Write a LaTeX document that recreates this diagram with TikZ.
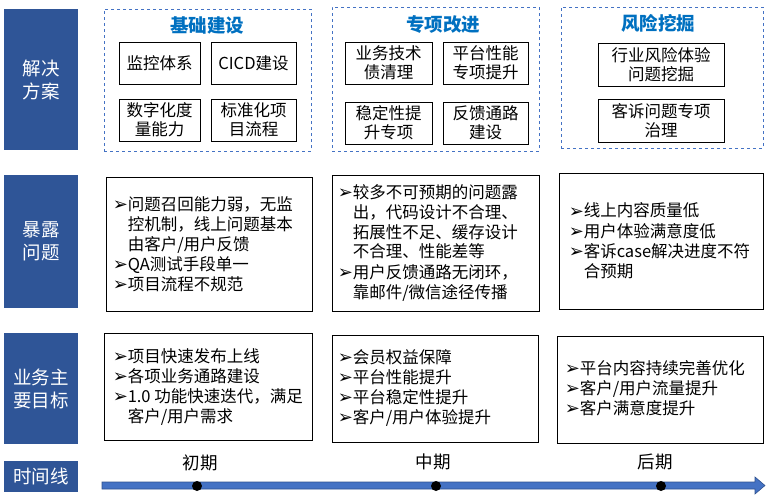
\documentclass[tikz,border=0pt]{standalone}
\usepackage{fontspec}
\setmainfont{Noto Sans CJK SC}
\newfontfamily\symfont{DejaVu Sans}
\definecolor{labblue}{HTML}{2F5597}
\definecolor{dashblue}{HTML}{4472C4}
\definecolor{ttlblue}{HTML}{0070C0}
\definecolor{arrfill}{HTML}{4472C4}
\definecolor{arrline}{HTML}{2F528F}
\newcommand\bul{\makebox[15pt][l]{\raisebox{-0.5pt}{\symfont\fontsize{18}{18}\selectfont ➢}}}
\begin{document}
\begin{tikzpicture}[x=1pt,y=-1pt,
 lab/.style={fill=labblue, text=white, font=\fontsize{18.5}{23}\selectfont, align=center, inner sep=0},
 grp/.style={draw=dashblue, dashed, line width=0.8pt, inner sep=0},
 item/.style={draw=black, line width=0.9pt, font=\fontsize{16.5}{19}\selectfont, align=center, inner sep=0},
 ttl/.style={text=ttlblue, font=\fontsize{18.5}{22}\selectfont\bfseries, inner sep=0},
 tbox/.style={draw=black, line width=0.9pt, inner sep=0},
 body/.style={anchor=west, inner sep=0, font=\fontsize{16.5}{20}\selectfont},
 dot/.style={circle, fill=black, minimum size=10pt, inner sep=0},
 per/.style={font=\fontsize{17.5}{20}\selectfont, inner sep=0},
]
\useasboundingbox (0,0) rectangle (771,501);

% left labels
\node[lab, minimum width=74pt, minimum height=141pt] (L1) at (41,79.5) {解决\\方案};
\node[lab, minimum width=74pt, minimum height=133pt] (L2) at (41,241.5) {暴露\\问题};
\node[lab, minimum width=74pt, minimum height=111pt] (L3) at (41,388.5) {业务主\\要目标};
\node[lab, minimum width=74pt, minimum height=31pt] (L4) at (41,476.5) {时间线};

% row 1 groups
\node[grp, minimum width=207pt, minimum height=142pt] (G1) at (207.5,80) {};
\node[grp, minimum width=207pt, minimum height=144pt] (G2) at (435.5,79) {};
\node[grp, minimum width=202pt, minimum height=141pt] (G3) at (662,77.5) {};
\node[ttl] (T1) at (207,25) {基础建设};
\node[ttl] (T2) at (443,24) {专项改进};
\node[ttl] (T3) at (658,23) {风险挖掘};

\node[item, minimum width=81pt, minimum height=42pt] (a1) at (159.5,63) {监控体系};
\node[item, minimum width=85pt, minimum height=42pt] (a2) at (253.5,63) {CICD建设};
\node[item, minimum width=81pt, minimum height=42pt] (a3) at (159.5,120) {数字化度\\量能力};
\node[item, minimum width=85pt, minimum height=42pt] (a4) at (253.5,120) {标准化项\\目流程};

\node[item, minimum width=87pt, minimum height=42pt] (b1) at (388.5,63) {业务技术\\债清理};
\node[item, minimum width=85pt, minimum height=42pt] (b2) at (485.5,63) {平台性能\\专项提升};
\node[item, minimum width=87pt, minimum height=42pt] (b3) at (388.5,123) {稳定性提\\升专项};
\node[item, minimum width=85pt, minimum height=42pt] (b4) at (485.5,123) {反馈通路\\建设};

\node[item, minimum width=126pt, minimum height=43pt] (c1) at (661,64.5) {行业风险体验\\问题挖掘};
\node[item, minimum width=126pt, minimum height=43pt] (c2) at (661,120.5) {客诉问题专项\\治理};

% row 2
\node[tbox, minimum width=206pt, minimum height=134pt] (P1) at (209,244) {};
\node[tbox, minimum width=207pt, minimum height=136pt] (P2) at (435.5,243) {};
\node[tbox, minimum width=204pt, minimum height=136pt] (P3) at (661,241) {};

\node[body] (p1t) at ([xshift=7pt,yshift=-2pt]P1.west) {\begin{tabular}{@{}l@{}l@{}}
\bul & 问题召回能力弱，无监\\
 & 控机制，线上问题基本\\
 & 由客户/用户反馈\\
\bul & QA测试手段单一\\
\bul & 项目流程不规范
\end{tabular}};
\node[body] (p2t) at ([xshift=6pt,yshift=-1pt]P2.west) {\begin{tabular}{@{}l@{}l@{}}
\bul & 较多不可预期的问题露\\
 & 出，代码设计不合理、\\
 & 拓展性不足、缓存设计\\
 & 不合理、性能差等\\
\bul & 用户反馈通路无闭环，\\
 & 靠邮件/微信途径传播
\end{tabular}};
\node[body] (p3t) at ([xshift=10pt,yshift=-2pt]P3.west) {\begin{tabular}{@{}l@{}l@{}}
\bul & 线上内容质量低\\
\bul & 用户体验满意度低\\
\bul & 客诉case解决进度不符\\
 & 合预期
\end{tabular}};

% row 3
\node[tbox, minimum width=208pt, minimum height=107pt] (Q1) at (208,386.5) {};
\node[tbox, minimum width=206pt, minimum height=107pt] (Q2) at (435,388.5) {};
\node[tbox, minimum width=206pt, minimum height=107pt] (Q3) at (660,389.5) {};

\node[body] (q1t) at ([xshift=9pt,yshift=-1.5pt]Q1.west) {\begin{tabular}{@{}l@{}l@{}}
\bul & 项目快速发布上线\\
\bul & 各项业务通路建设\\
\bul & 1.0 功能快速迭代，满足\\
 & 客户/用户需求
\end{tabular}};
\node[body] (q2t) at ([xshift=6pt,yshift=-0.5pt]Q2.west) {\begin{tabular}{@{}l@{}l@{}}
\bul & 会员权益保障\\
\bul & 平台性能提升\\
\bul & 平台稳定性提升\\
\bul & 客户/用户体验提升
\end{tabular}};
\node[body] (q3t) at ([xshift=8pt,yshift=-0.5pt]Q3.west) {\begin{tabular}{@{}l@{}l@{}}
\bul & 平台内容持续完善优化\\
\bul & 客户/用户流量提升\\
\bul & 客户满意度提升
\end{tabular}};

% timeline
\coordinate (tl0) at (102,485.5);
\coordinate (tl1) at (765,485.5);
\fill[arrfill, draw=arrline, line width=0.6pt]
 ([yshift=-3.5pt]tl0) -- ([xshift=-10pt,yshift=-3.5pt]tl1) -- ([xshift=-10pt,yshift=-8.5pt]tl1)
 -- (tl1) -- ([xshift=-10pt,yshift=8.5pt]tl1) -- ([xshift=-10pt,yshift=3.5pt]tl1)
 -- ([yshift=3.5pt]tl0) -- cycle;
\node[dot] (d1) at (197,486) {};
\node[dot] (d2) at (436,486) {};
\node[dot] (d3) at (661,486) {};
\node[per] (e1) at (200,463) {初期};
\node[per] (e2) at (433,462) {中期};
\node[per] (e3) at (655,462) {后期};
\end{tikzpicture}
\end{document}
